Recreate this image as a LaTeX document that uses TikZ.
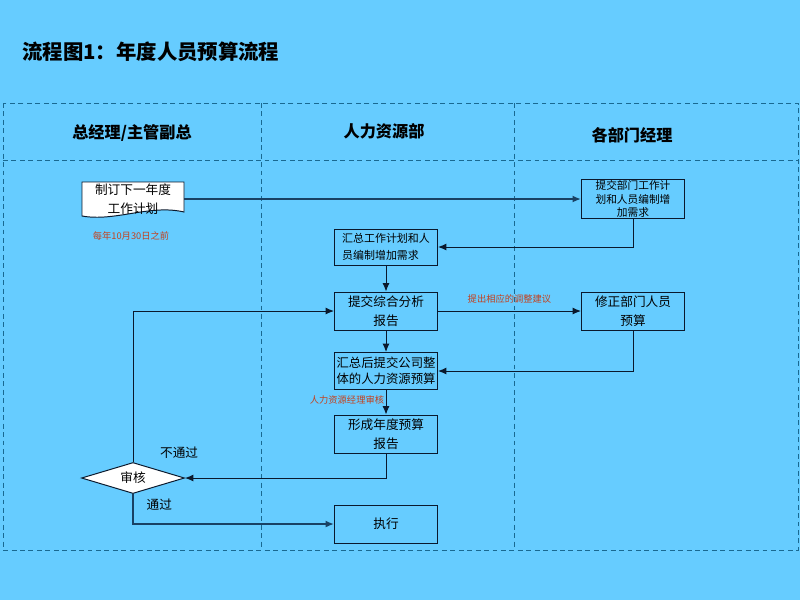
\documentclass[tikz,border=0pt]{standalone}
\usepackage{fontspec}
\setmainfont{Noto Sans CJK SC}
\usetikzlibrary{shapes.geometric,arrows.meta}
\definecolor{bgblue}{RGB}{102,204,255}
\definecolor{lanecol}{RGB}{25,105,145}
\definecolor{linecol}{RGB}{10,25,45}
\definecolor{thickcol}{RGB}{25,65,100}
\definecolor{notecol}{RGB}{195,65,30}
\tikzset{
  box/.style={draw=linecol, line width=0.7pt, minimum width=2.575cm, minimum height=0.95cm, inner sep=1pt, align=center, font=\fontsize{9}{13.5}\selectfont},
  smallbox/.style={box, font=\fontsize{7.6}{9.6}\selectfont},
  note/.style={text=notecol, font=\fontsize{6.6}{8}\selectfont, inner sep=1pt},
  lane/.style={draw=lanecol, dash pattern=on 3.5pt off 2.5pt, line width=0.6pt},
  head/.style={font=\bfseries\fontsize{11.5}{13}\selectfont},
  flow/.style={draw=linecol, line width=0.7pt, -{Latex[length=6pt,width=5pt]}},
  thickflow/.style={flow, draw=thickcol, line width=1.3pt},
}

\begin{document}
\begin{tikzpicture}[x=0.025cm, y=-0.025cm]
\fill[bgblue] (0,0) rectangle (800,600);
\useasboundingbox (0,0) rectangle (800,600);
% title and lanes
\node[anchor=west, inner sep=0pt, font=\bfseries\fontsize{14.5}{16}\selectfont] (Title) at (22,52) {流程图1：年度人员预算流程};
\draw[lane] (3,103) rectangle (798,550);
\draw[lane] (3,160) -- (798,160);
\draw[lane] (261,103) -- (261,550);
\draw[lane] (514,103) -- (514,550);
\node[head] (H1) at (132,133) {总经理/主管副总};
\node[head] (H2) at (384,131) {人力资源部};
\node[head] (H3) at (632,135) {各部门经理};
% document shape
\filldraw[fill=white, draw=linecol, line width=0.7pt] (82,182) -- (184,182) -- (184,212)
  .. controls (150,204) and (115,222) .. (82,216) -- cycle;
\node[inner sep=1pt, align=center, minimum width=2.55cm, font=\fontsize{9}{13.5}\selectfont] (Plan) at (133,199) {制订下一年度\\工作计划};
\node[note] (Date) at (131,236) {每年10月30日之前};
% boxes
\node[smallbox] (Task) at (633,199) {提交部门工作计\\划和人员编制增\\加需求};
\node[smallbox, align=left, font=\fontsize{7.8}{12.5}\selectfont, minimum height=0.9cm] (Sum) at (386,247) {汇总工作计划和人\\员编制增加需求};
\node[box] (Rep) at (386,311) {提交综合分析\\报告};
\node[box] (Fix) at (633,311) {修正部门人员\\预算};
\node[box, font=\fontsize{8.8}{11.5}\selectfont, minimum height=0.925cm] (Tot) at (386,371) {汇总后提交公司整\\体的人力资源预算};
\node[box] (Form) at (386,434) {形成年度预算\\报告};
\node[diamond, draw=linecol, fill=white, line width=0.7pt, aspect=3.3, inner sep=0pt, minimum width=2.575cm, minimum height=0.775cm, font=\fontsize{9}{11}\selectfont] (Check) at (133,478) {审核};
\node[box] (Run) at (386,524) {执行};
% connectors
\draw[thickflow] (Plan.east) -- (Plan.east -| Task.west);
\draw[flow] (Task.south) |- (Sum.east);
\draw[flow] (Sum) -- (Rep);
\draw[flow] (Rep) -- (Fix) node[note, midway, above=4pt] {提出相应的调整建议};
\draw[flow] (Fix.south) |- (Tot.east);
\draw[flow] (Rep) -- (Tot);
\draw[flow] (Tot) -- (Form) node[note, pos=0.4, anchor=east] {人力资源经理审核};
\draw[flow] (Form.south) |- (Check.east);
\draw[flow] (Check.north) |- (Rep.west) node[pos=0.03, anchor=west, xshift=0.55cm, font=\fontsize{9}{11}\selectfont] {不通过};
\draw[thickflow] (Check.south) |- (Run.west) node[pos=0.18, anchor=west, xshift=0.2cm, font=\fontsize{9}{11}\selectfont] {通过};
\end{tikzpicture}
\end{document}
